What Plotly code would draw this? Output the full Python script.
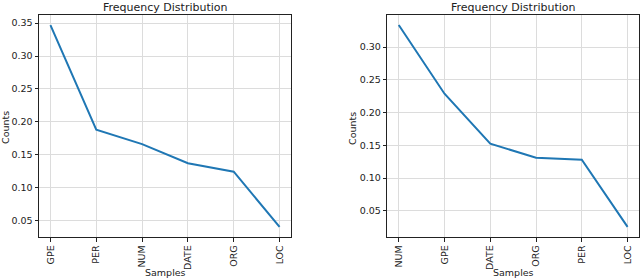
import plotly.graph_objects as go
from plotly.subplots import make_subplots

left_labels = ["GPE", "PER", "NUM", "DATE", "ORG", "LOC"]
left_values = [0.347, 0.188, 0.166, 0.137, 0.124, 0.040]
right_labels = ["NUM", "GPE", "DATE", "ORG", "PER", "LOC"]
right_values = [0.3335, 0.2287, 0.1526, 0.131, 0.128, 0.0256]
left_ticks = [0.05, 0.10, 0.15, 0.20, 0.25, 0.30, 0.35]
right_ticks = [0.05, 0.10, 0.15, 0.20, 0.25, 0.30]

FONT = "DejaVu Sans"
W, H = 640, 278
ML, MR, MT, MB = 39, 1, 15, 41
PW = W - ML - MR
PH = H - MT - MB

fig = make_subplots(rows=1, cols=2)
fig.add_trace(go.Scatter(x=left_labels, y=left_values, mode="lines",
                         line=dict(color="#1f77b4", width=2)), row=1, col=1)
fig.add_trace(go.Scatter(x=right_labels, y=right_values, mode="lines",
                         line=dict(color="#1f77b4", width=2)), row=1, col=2)

def px2x(p):
    return (p - ML) / PW

def py2y(p):
    return (H - MB - p) / PH

d1 = [0, px2x(291)]
d2 = [px2x(387.3), 1]

common_x = dict(type="category", range=[-0.25, 5.25], tickangle=-90,
                showgrid=True, gridcolor="#dcdcdc", gridwidth=1,
                showline=True, linecolor="#222", linewidth=1, mirror=True,
                ticks="outside", ticklen=3.5, tickcolor="#222",
                tickfont=dict(family=FONT, size=9.5, color="#222"), zeroline=False)
common_y = dict(showgrid=True, gridcolor="#dcdcdc", gridwidth=1,
                showline=True, linecolor="#222", linewidth=1, mirror=True,
                ticks="outside", ticklen=3.5, tickcolor="#222",
                tickfont=dict(family=FONT, size=9.5, color="#222"), zeroline=False)

fig.update_xaxes(common_x, domain=d1, row=1, col=1)
fig.update_xaxes(common_x, domain=d2, row=1, col=2)
fig.update_yaxes(common_y, range=[0.0247, 0.3624], tickvals=left_ticks,
                 ticktext=[f"{v:.2f}" for v in left_ticks], row=1, col=1)
fig.update_yaxes(common_y, range=[0.0102, 0.3488], tickvals=right_ticks,
                 ticktext=[f"{v:.2f}" for v in right_ticks], row=1, col=2)

anns = []
for dom, cx_label in [(d1, 5), (d2, 352)]:
    cx = (dom[0] + dom[1]) / 2
    anns.append(dict(text="Frequency Distribution", x=cx, y=py2y(7.5), xref="paper", yref="paper",
                     showarrow=False, xanchor="center", yanchor="middle",
                     font=dict(family=FONT, size=11, color="#222")))
    anns.append(dict(text="Samples", x=cx, y=py2y(272.5), xref="paper", yref="paper",
                     showarrow=False, xanchor="center", yanchor="middle",
                     font=dict(family=FONT, size=9.5, color="#222")))
    anns.append(dict(text="Counts", x=px2x(cx_label), y=py2y(128), xref="paper", yref="paper",
                     showarrow=False, xanchor="center", yanchor="middle", textangle=-90,
                     font=dict(family=FONT, size=9.5, color="#222")))

fig.update_layout(width=W, height=H, margin=dict(l=ML, r=MR, t=MT, b=MB),
                  plot_bgcolor="white", paper_bgcolor="white", showlegend=False,
                  annotations=anns)
fig.write_html("out.html", config={"displayModeBar": False},
               post_script="document.body.style.margin='0';document.body.style.overflow='hidden';")
